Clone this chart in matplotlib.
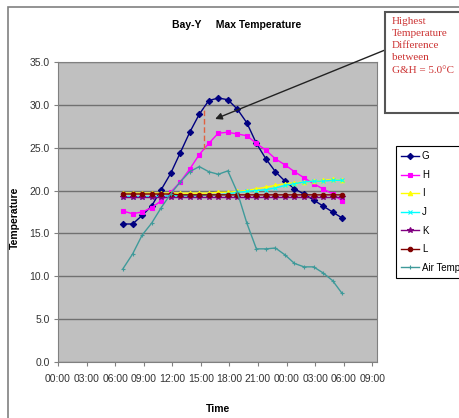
import numpy as np
import matplotlib
matplotlib.use("Agg")
import matplotlib.pyplot as plt
from matplotlib.patches import Rectangle

# hourly readings, 06:50 through 05:50 the next morning
times = ["06:50", "07:50", "08:50", "09:50", "10:50", "11:50", "12:50", "13:50",
         "14:50", "15:50", "16:50", "17:50", "18:50", "19:50", "20:50", "21:50",
         "22:50", "23:50", "00:50", "01:50", "02:50", "03:50", "04:50", "05:50"]

temp_g = [16.1, 16.1, 17.1, 18.2, 20.1, 22.0, 24.4, 26.8, 28.9, 30.5, 30.8, 30.6,
          29.5, 27.9, 25.5, 23.7, 22.2, 21.1, 20.2, 19.6, 18.9, 18.2, 17.5, 16.8]
temp_h = [17.6, 17.3, 17.5, 18.0, 18.8, 19.8, 21.0, 22.5, 24.2, 25.5, 26.7, 26.8,
          26.6, 26.4, 25.5, 24.7, 23.7, 23.0, 22.2, 21.5, 20.8, 20.2, 19.6, 18.8]
temp_i = [19.7, 19.7, 19.7, 19.7, 19.7, 19.7, 19.7, 19.7, 19.7, 19.7, 19.8, 19.8,
          19.9, 20.0, 20.2, 20.4, 20.6, 20.8, 20.9, 21.0, 21.1, 21.2, 21.3, 21.2]
temp_j = [19.3, 19.3, 19.3, 19.3, 19.3, 19.4, 19.4, 19.4, 19.4, 19.5, 19.5, 19.6,
          19.8, 19.9, 20.0, 20.1, 20.3, 20.6, 20.8, 21.0, 21.1, 21.1, 21.2, 21.2]
temp_k = [19.3, 19.3, 19.3, 19.3, 19.3, 19.3, 19.3, 19.3, 19.3, 19.3, 19.3, 19.3,
          19.3, 19.3, 19.3, 19.3, 19.3, 19.3, 19.3, 19.3, 19.3, 19.3, 19.3, 19.3]
temp_l = [19.6, 19.6, 19.6, 19.6, 19.6, 19.6, 19.5, 19.5, 19.5, 19.5, 19.5, 19.5,
          19.5, 19.5, 19.5, 19.5, 19.5, 19.5, 19.5, 19.5, 19.5, 19.5, 19.5, 19.5]
temp_air = [10.9, 12.6, 14.8, 16.2, 18.0, 19.6, 21.0, 22.2, 22.8, 22.2, 21.9, 22.3,
            19.8, 16.2, 13.2, 13.2, 13.3, 12.5, 11.5, 11.1, 11.1, 10.4, 9.5, 8.0]

tick_labels = ["00:00", "03:00", "06:00", "09:00", "12:00", "15:00", "18:00",
               "21:00", "00:00", "03:00", "06:00", "09:00"]


def to_hours(labels):
    # clock strings -> hours since the first midnight, rolling over past 24
    out = []
    day = 0
    prev = -1
    for s in labels:
        h, m = s.split(":")
        v = int(h) + int(m) / 60.0
        if v < prev:
            day += 24
        prev = v
        out.append(v + day)
    return np.array(out)


t = to_hours(times)

plt.rcParams['font.family'] = ['Liberation Sans', 'DejaVu Sans']

W, H = 459, 418
fig = plt.figure(figsize=(W / 100, H / 100), dpi=100)
ax = fig.add_axes([58 / W, 1 - 362 / H, (377 - 58) / W, (362 - 62) / H])
ax.set_facecolor('#c0c0c0')

# outer chart border
fig.patches.append(Rectangle((8 / W, -0.1), 1.2, 1 - 7 / H + 0.1, transform=fig.transFigure,
                             fill=False, edgecolor='#808080', lw=1.2))

series = [
    ("G", temp_g, '#000080', 'D', 3.2),
    ("H", temp_h, '#ff00ff', 's', 3.2),
    ("I", temp_i, '#ffff00', '^', 3.2),
    ("J", temp_j, '#00ffff', 'x', 3.2),
    ("K", temp_k, '#800080', '*', 3.8),
    ("L", temp_l, '#800000', 'o', 3.2),
    ("Air Temp", temp_air, '#3f9a9a', '+', 3.5),
]
for name, vals, col, mk, ms in series:
    ax.plot(t, vals, color=col, marker=mk, markersize=ms, lw=1.0, label=name,
            markeredgewidth=0.8)

# dashed marker for the biggest G/H gap
t_gap = (t[8] + t[9]) / 2
ax.vlines(t_gap, np.interp(t_gap, t, temp_h), np.interp(t_gap, t, temp_g),
          colors='#e06040', linestyles=(0, (4, 2)), lw=1.0)

ax.set_xlim(0, 33.5)
ax.set_ylim(0, 35)
ax.set_xticks(np.arange(0, 34, 3))
ax.set_xticklabels(tick_labels)
ax.set_yticks(np.arange(0, 36, 5))
ax.set_yticklabels([f"{v:.1f}" for v in np.arange(0, 36, 5)])
ax.yaxis.grid(True, color='#707070', lw=1.0)
ax.set_axisbelow(True)
for s in ax.spines.values():
    s.set_color('#808080')
ax.tick_params(axis='both', labelsize=7.5, length=3, color='#808080',
               labelcolor='#333333')
ax.tick_params(axis='x', pad=6)
ax.tick_params(axis='y', pad=3)

fig.text(237 / W, 1 - 25 / H, "Bay-Y     Max Temperature", ha='center', va='center',
         fontsize=7.5, fontweight='bold')
fig.text(15 / W, 1 - 218 / H, "Temperature", ha='center', va='center', rotation=90,
         fontsize=7.5, fontweight='bold')
fig.text(218 / W, 1 - 409 / H, "Time", ha='center', va='center',
         fontsize=7.5, fontweight='bold')

leg = fig.legend(loc='upper left', bbox_to_anchor=(396 / W, 1 - 146 / H),
                 fontsize=7, frameon=True, fancybox=False, framealpha=1,
                 edgecolor='black', handlelength=1.8, handletextpad=0.3,
                 labelspacing=0.88, borderpad=0.55, borderaxespad=0)
leg.get_frame().set_linewidth(0.8)

# callout box with arrow
fig.patches.append(Rectangle((385 / W, 1 - 113 / H), 0.5, (113 - 12) / H,
                             transform=fig.transFigure, facecolor='white',
                             edgecolor='#555555', lw=1.5))
fig.text(392 / W, 1 - 17 / H, "Highest\nTemperature\nDifference\nbetween\nG&H = 5.0\u00b0C",
         ha='left', va='top', fontsize=8, color='#cc3333', linespacing=1.45,
         family=['Liberation Serif', 'DejaVu Serif'])
ax.annotate("", xy=(16.5, 28.35), xycoords='data',
            xytext=(385 / W, 1 - 50 / H), textcoords='figure fraction',
            arrowprops=dict(arrowstyle='-|>', color='#222222', lw=1.0,
                            mutation_scale=10, shrinkA=0, shrinkB=0),
            annotation_clip=False)

fig.savefig("out.png", dpi=100)
